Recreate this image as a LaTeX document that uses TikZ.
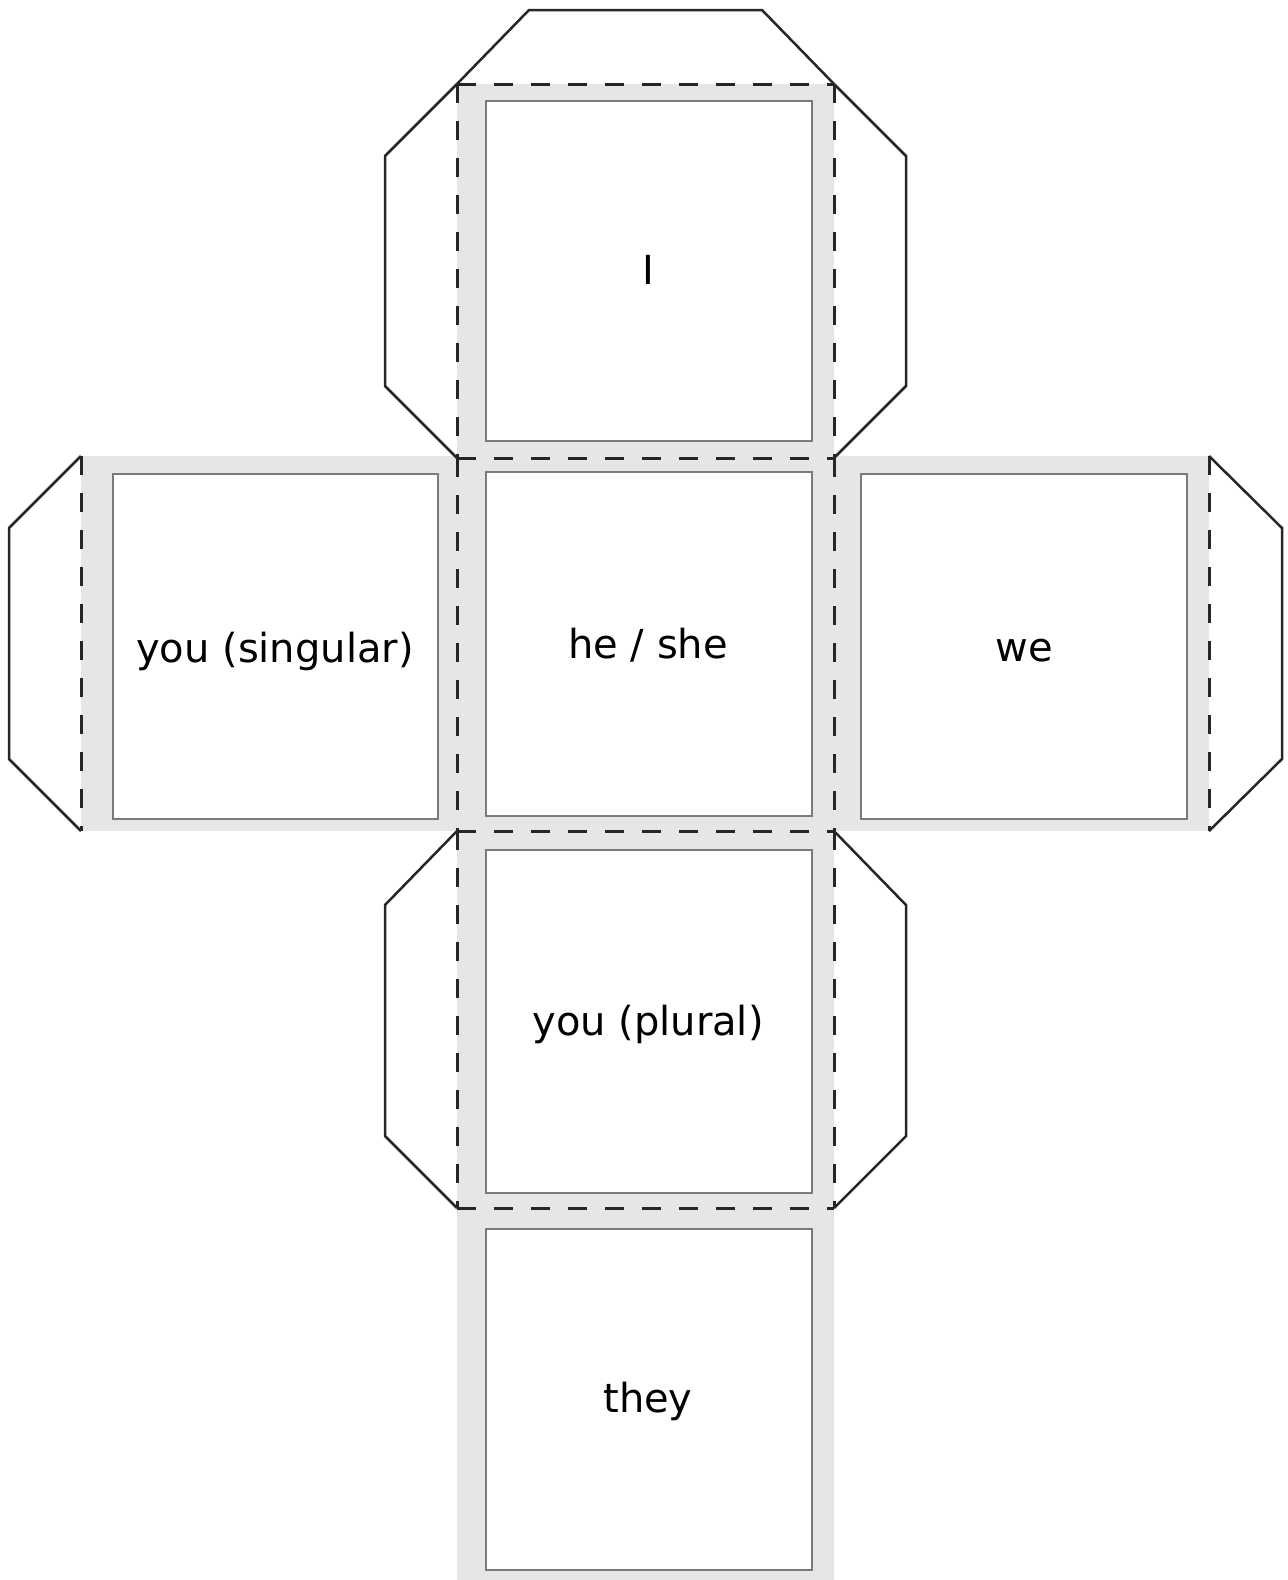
\documentclass[tikz,border=0pt]{standalone}
\usepackage{fontspec}
\setmainfont{DejaVu Sans}
\definecolor{bandgray}{HTML}{E6E6E6}
\definecolor{boxgray}{HTML}{7A7A7A}
\definecolor{inkcol}{HTML}{262626}
\tikzset{
  band/.style={fill=bandgray, draw=none},
  facebox/.style={draw=boxgray, line width=0.8pt, fill=white, inner sep=0pt},
  facetext/.style={inner sep=0pt, font=\fontsize{20}{24}\selectfont, text=black},
  foldline/.style={draw=inkcol, line width=1.5pt, dash pattern=on 9.5pt off 9pt},
  cutline/.style={draw=inkcol, line width=1.25pt, line join=miter},
}
\begin{document}
\begin{tikzpicture}[x=0.5pt,y=-0.5pt]
\useasboundingbox (0,0) rectangle (1287,1580);
% grey cross
\fill[band] (457,84) rectangle (834,1580);
\fill[band] (81,456) rectangle (1209,831);
% faces
\node[facebox, minimum width=163pt, minimum height=170pt]     (fI)    at (649,271)     {};
\node[facebox, minimum width=163pt, minimum height=172pt]     (fhs)   at (649,644)     {};
\node[facebox, minimum width=162.5pt, minimum height=172.5pt] (fys)   at (275.5,646.5) {};
\node[facebox, minimum width=163pt, minimum height=172.5pt]   (fwe)   at (1024,646.5)  {};
\node[facebox, minimum width=163pt, minimum height=171.5pt]   (fyp)   at (649,1021.5)  {};
\node[facebox, minimum width=163pt, minimum height=170.5pt]   (fthey) at (649,1399.5)  {};
% labels
\node[facetext] (tI)    at (648,270)  {I};
\node[facetext] (ths)   at (648,645)  {he / she};
\node[facetext] (tys)   at (275,651)  {you (singular)};
\node[facetext] (twe)   at (1024,651) {we};
\node[facetext] (typ)   at (648,1024) {you (plural)};
\node[facetext] (tthey) at (648,1401) {they};
% cut lines (flaps)
\draw[cutline] (457,84) -- (529,10) -- (762,10) -- (834,84);
\draw[cutline] (457,84) -- (385,156) -- (385,386) -- (457,458);
\draw[cutline] (834,84) -- (906,156) -- (906,386) -- (834,458);
\draw[cutline] (81,456) -- (9,528) -- (9,759) -- (81,831);
\draw[cutline] (1209,456) -- (1282,528) -- (1282,759) -- (1209,831);
\draw[cutline] (457,831) -- (385,905) -- (385,1136) -- (457,1208);
\draw[cutline] (834,831) -- (906,905) -- (906,1136) -- (834,1208);
% fold lines
\draw[foldline] (457,84) -- (834,84);
\draw[foldline] (457,458) -- (834,458);
\draw[foldline] (457,831) -- (834,831);
\draw[foldline] (457,1208) -- (834,1208);
\draw[foldline] (457,84) -- (457,458);
\draw[foldline] (457,458) -- (457,831);
\draw[foldline] (457,831) -- (457,1208);
\draw[foldline] (834,84) -- (834,458);
\draw[foldline] (834,458) -- (834,831);
\draw[foldline] (834,831) -- (834,1208);
\draw[foldline] (81,456) -- (81,831);
\draw[foldline] (1209,456) -- (1209,831);
\end{tikzpicture}
\end{document}
